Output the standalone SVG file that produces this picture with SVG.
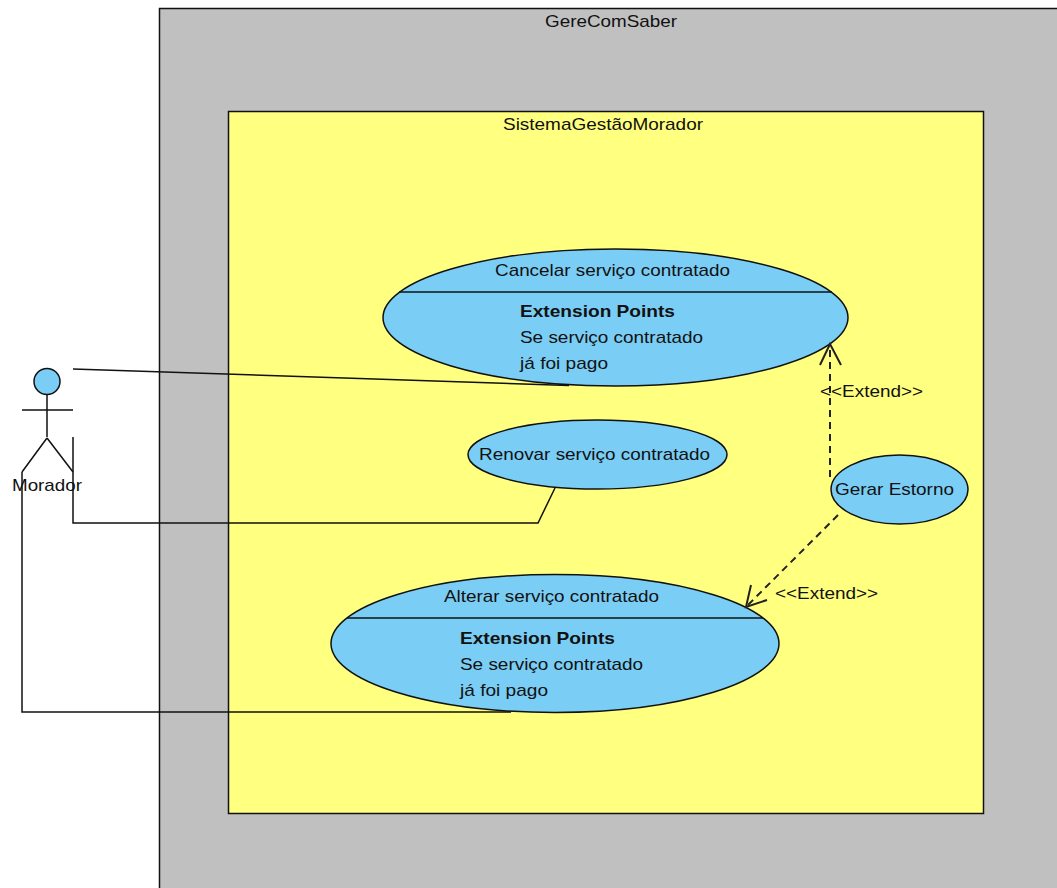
<svg xmlns="http://www.w3.org/2000/svg" width="1057" height="888" viewBox="0 0 1057 888">
<style>
text{font-family:"Liberation Sans",Arial,sans-serif;font-size:17px;fill:#111}
.b{font-weight:bold}
.s{stroke:#111;stroke-width:1.5;fill:none}
.h{stroke:#222;stroke-width:2;fill:none}
.d{stroke-dasharray:7 5}
.u{fill:#7acdf5;stroke:#111;stroke-width:1.5}
</style>
<rect width="1057" height="888" fill="#fff"/>
<g id="GereComSaber"><path d="M159.500 888V8.500H1057V888" fill="#c0c0c0"/><path d="M159.500 888V8.500H1057" class="s"/><text x="545" y="27" textLength="132" lengthAdjust="spacingAndGlyphs">GereComSaber</text></g>
<g id="SistemaGestaoMorador"><rect x="228.500" y="111.500" width="755" height="702" fill="#ffff80" stroke="#111" stroke-width="1.500"/><text x="503" y="130" textLength="200" lengthAdjust="spacingAndGlyphs">SistemaGestãoMorador</text></g>
<g id="uc-cancelar"><ellipse cx="615.500" cy="317.500" rx="232.500" ry="68.500" class="u"/><path d="M399 292H832" class="s"/><text x="495" y="276" textLength="235" lengthAdjust="spacingAndGlyphs">Cancelar serviço contratado</text><text x="520" y="317" class="b" textLength="155" lengthAdjust="spacingAndGlyphs">Extension Points</text><text x="520" y="343" textLength="183" lengthAdjust="spacingAndGlyphs">Se serviço contratado</text><text x="520" y="369" textLength="88" lengthAdjust="spacingAndGlyphs">já foi pago</text></g>
<g id="uc-renovar"><ellipse cx="597.500" cy="454.500" rx="129.500" ry="34.500" class="u"/><text x="479" y="460" textLength="231" lengthAdjust="spacingAndGlyphs">Renovar serviço contratado</text></g>
<g id="uc-alterar"><ellipse cx="555" cy="643.500" rx="224" ry="69" class="u"/><path d="M347 618H763" class="s"/><text x="444" y="602" textLength="215" lengthAdjust="spacingAndGlyphs">Alterar serviço contratado</text><text x="460" y="644" class="b" textLength="155" lengthAdjust="spacingAndGlyphs">Extension Points</text><text x="460" y="670" textLength="183" lengthAdjust="spacingAndGlyphs">Se serviço contratado</text><text x="460" y="696" textLength="88" lengthAdjust="spacingAndGlyphs">já foi pago</text></g>
<g id="uc-estorno"><ellipse cx="899.500" cy="489.500" rx="68.500" ry="34.500" class="u"/><text x="835" y="495" textLength="119" lengthAdjust="spacingAndGlyphs">Gerar Estorno</text></g>
<g id="ator-morador"><circle cx="47" cy="381.500" r="13" class="u"/><path d="M47 395V437M22 410H73M47 438L22 472M47 438L73 472" class="s"/><text x="12" y="491" textLength="70" lengthAdjust="spacingAndGlyphs">Morador</text></g>
<g id="connectors">
<path d="M73 369L569 385.500" class="s"/>
<path d="M73 437V523H538L555 488" class="s"/>
<path d="M22 472V712H511" class="s"/>
<path d="M830 477V346" class="h d"/><path d="M820 365L830 344L841 365" class="h"/>
<path d="M838 515L746 607" class="h d"/><path d="M751 585L746 607L767 600" class="h"/>
<text x="820" y="397" textLength="103" lengthAdjust="spacingAndGlyphs">&lt;&lt;Extend&gt;&gt;</text>
<text x="775" y="599" textLength="103" lengthAdjust="spacingAndGlyphs">&lt;&lt;Extend&gt;&gt;</text>
</g>
</svg>
